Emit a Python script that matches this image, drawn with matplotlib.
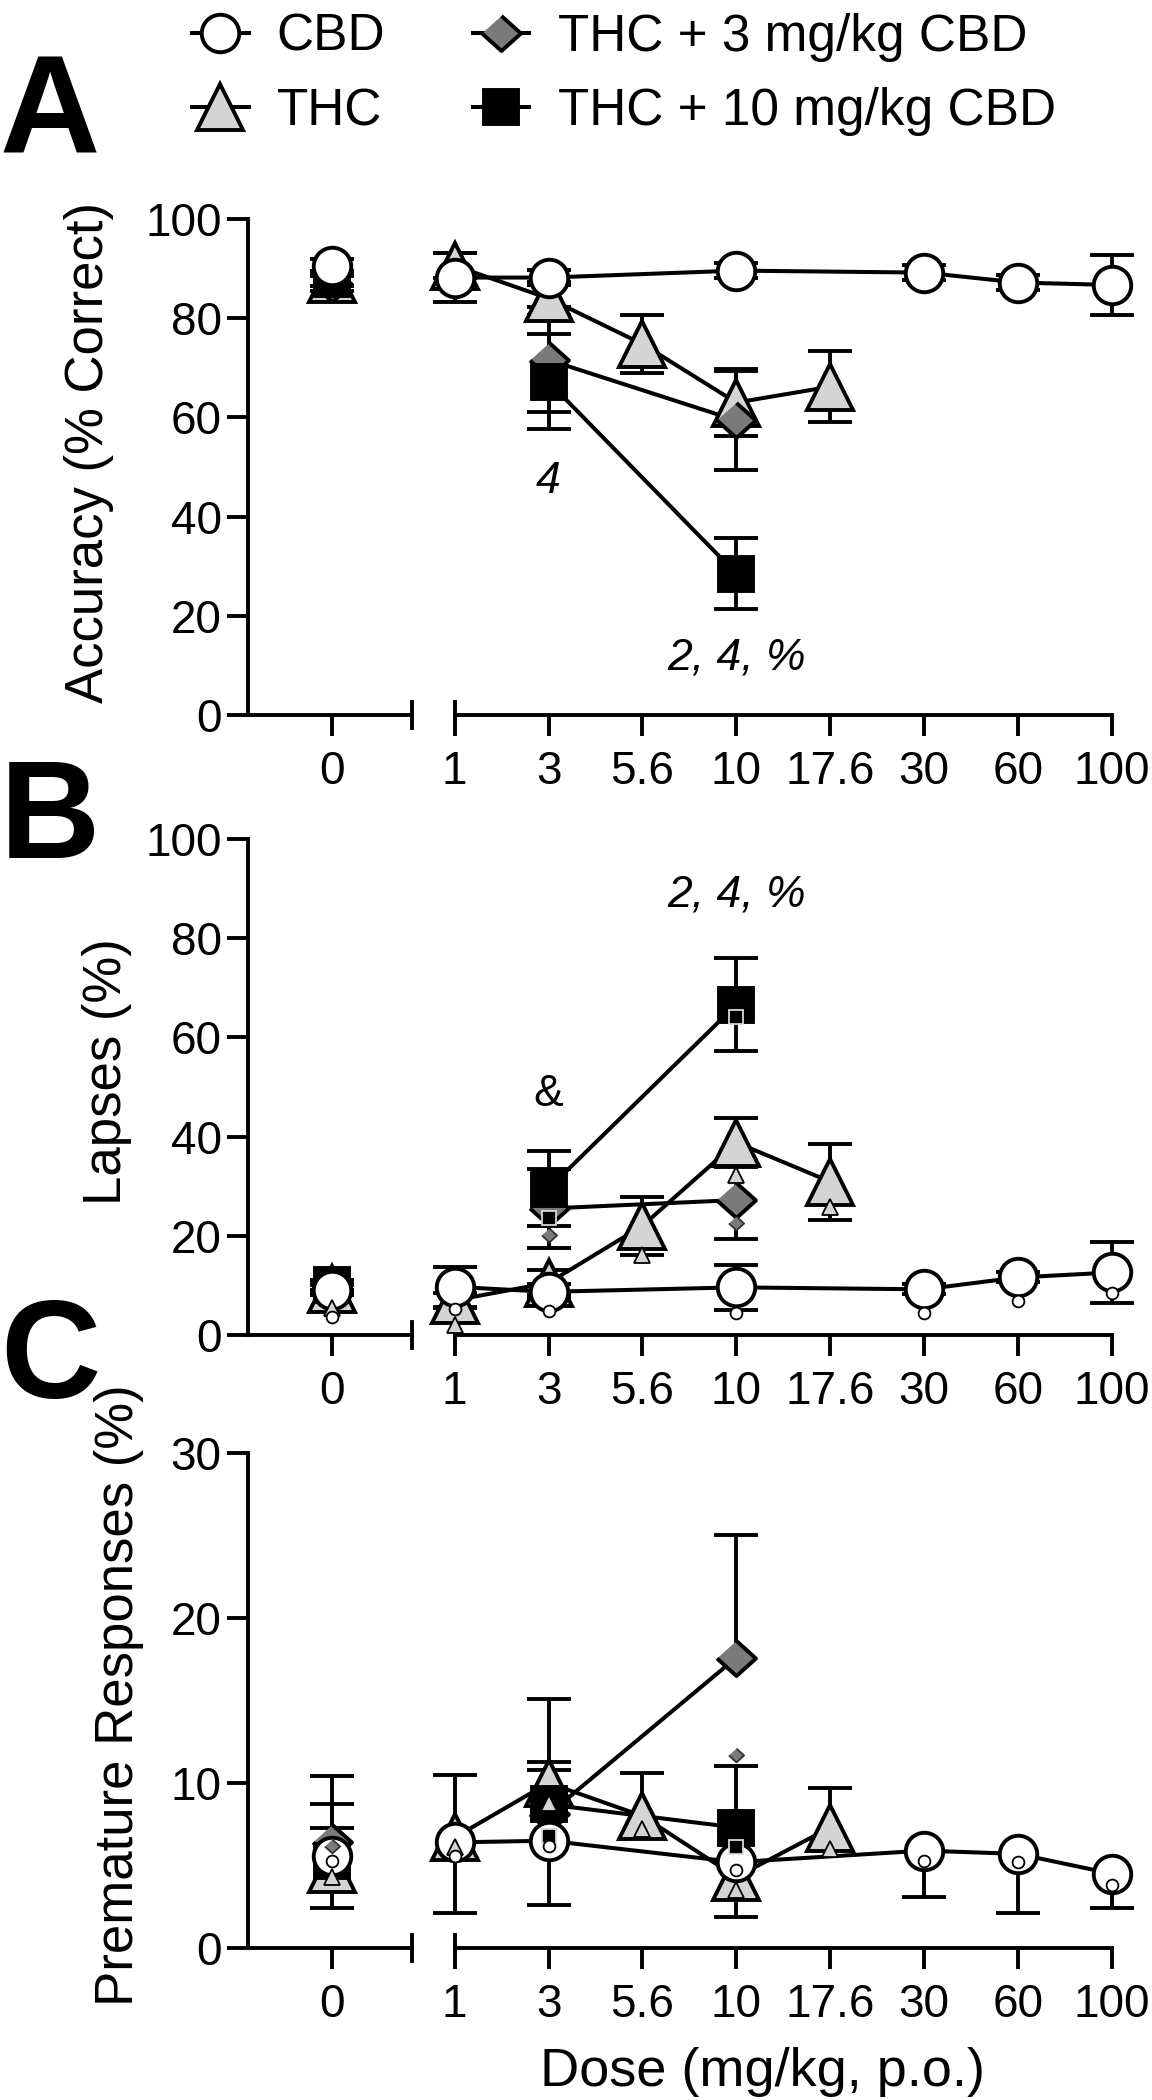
import numpy as np
import matplotlib.pyplot as plt
from matplotlib.lines import Line2D

plt.rcParams['font.family'] = ['Liberation Sans', 'DejaVu Sans']

# ---- data -------------------------------------------------------------
doses = ['0', '1', '3', '5.6', '10', '17.6', '30', '60', '100']
cbd_doses = ['0', '1', '3', '10', '30', '60', '100']
thc_doses = ['0', '1', '3', '5.6', '10', '17.6']
mix_doses = ['0', '3', '10']
names = ['CBD', 'THC', 'THC + 3 mg/kg CBD', 'THC + 10 mg/kg CBD']

# A: accuracy (% correct), mean and SEM
acc_cbd = [90.5, 88.2, 88.2, 89.6, 89.2, 87.2, 86.7]
acc_cbd_sem = [1.5, 5.0, 1.5, 1.5, 1.5, 1.5, 6.0]
acc_thc = [88.0, 90.6, 84.0, 74.8, 63.0, 66.2]
acc_thc_sem = [1.5, 2.5, 3.4, 5.9, 6.8, 7.2]
acc_thc3 = [87.0, 71.6, 59.4]
acc_thc3_sem = [1.5, 10.6, 10.0]
acc_thc10 = [88.0, 67.2, 28.5]
acc_thc10_sem = [1.5, 9.6, 7.2]

# B: lapses (%)
lap_cbd = [9.1, 9.7, 8.7, 9.6, 9.2, 11.6, 12.6]
lap_cbd_sem = [1.0, 4.1, 1.5, 4.5, 1.0, 1.0, 6.2]
lap_thc = [9.2, 7.0, 10.5, 22.0, 38.8, 30.9]
lap_thc_sem = [1.0, 1.5, 2.5, 5.8, 5.0, 7.7]
lap_thc3 = [9.0, 25.5, 27.2]
lap_thc3_sem = [1.0, 8.0, 7.9]
lap_thc10 = [10.0, 29.5, 66.6]
lap_thc10_sem = [1.0, 7.5, 9.3]
# B: small symbols
lap_cbd_s = [3.7, 5.2, 4.9, 4.5, 4.5, 6.9, 8.4]
lap_thc_s = [5.4, 2.0, np.nan, 16.1, 32.3, 25.7]
lap_thc3_s = [np.nan, 20.2, 22.6]
lap_thc10_s = [np.nan, 23.5, 64.2]

# C: premature responses (%)
pre_cbd = [5.6, 6.4, 6.5, 5.2, 5.9, 5.7, 4.5]
pre_cbd_sem = [3.2, 4.3, 3.9, 3.3, 2.8, 3.6, 2.1]
pre_thc = [4.8, 6.7, 10.0, 8.0, 4.3, 7.3]
pre_thc_sem = [3.9, 3.8, 5.1, 2.6, 1.0, 2.4]
pre_thc3 = [6.4, 8.1, 17.6]
pre_thc3_sem = [0.9, 3.2, 7.4]
pre_thc10 = [5.3, 8.7, 7.3]
pre_thc10_sem = [5.1, 2.1, 3.7]
# C: small symbols
pre_cbd_s = [5.3, 5.6, 6.2, 4.7, 5.3, 5.2, 3.8]
pre_thc_s = [4.3, 6.1, 8.8, 7.2, 3.5, 6.0]
pre_thc3_s = [6.2, np.nan, 11.7]
pre_thc10_s = [np.nan, 6.8, 6.1]

# ---- styling ------------------------------------------------------------
# broken x axis: vehicle on its own, then the doses evenly spaced
xpos = dict(zip(doses, [-1.31, 0, 1, 2, 3, 4, 5, 6, 7]))
XL, BRK = -2.2, -0.45

diamond = [(0, 0.9), (1, 0), (0, -0.9), (-1, 0)]
styles = {
    'CBD': dict(marker='o', ms=27, mfc='white', z=6, sms=8.5, sec='k'),
    'THC': dict(marker='^', ms=33, mfc='#d4d4d4', z=3, sms=11, sec='k'),
    'THC + 3 mg/kg CBD': dict(marker=diamond, ms=28, mfc='#7a7a7a', z=4, sms=11, sec='#333333'),
    'THC + 10 mg/kg CBD': dict(marker='s', ms=24, mfc='black', z=5, sms=9.5, sec='#d8d8d8'),
}
LW, MEW = 2.9, 2.8


def errbars(ax, x, y, lo, hi):
    ax.vlines(x, y - lo, y + hi, colors='k', lw=MEW, zorder=2, clip_on=False)
    for ends, e in ((y + hi, hi), (y - lo, lo)):
        m = e > 0
        ax.plot(x[m], ends[m], ls='none', marker='_', ms=31, mew=MEW,
                color='k', zorder=2, clip_on=False)


def panel(ax, series, small, ymax, yticks, ylabel, lab_xy, err_mode):
    for name, (d, mean, sem) in series.items():
        st = styles[name]
        x = np.array([xpos[k] for k in d])
        y = np.array(mean)
        e = np.array(sem)
        if err_mode == 'both':
            lo, hi = e, e
        elif name == 'CBD':
            lo, hi = e, np.zeros_like(e)
        else:
            lo, hi = np.zeros_like(e), e
        errbars(ax, x, y, lo, hi)
        ax.plot(x[1:], y[1:], color='k', lw=LW, zorder=2.5, clip_on=False)
        ax.plot(x, y, ls='none', marker=st['marker'], ms=st['ms'], mfc=st['mfc'],
                mec='k', mew=MEW, zorder=st['z'], clip_on=False)
        if small is not None:
            ax.plot(x, np.array(small[name]), ls='none', marker=st['marker'],
                    ms=st['sms'], mfc=st['mfc'], mec=st['sec'], mew=1.3,
                    zorder=10, clip_on=False)

    ax.set_xlim(XL, 7)
    ax.set_ylim(0, ymax)
    ax.set_yticks(yticks)
    ax.set_xticks([xpos[k] for k in doses], doses)
    for s in ['top', 'right']:
        ax.spines[s].set_visible(False)
    ax.spines['left'].set_linewidth(MEW)
    ax.spines['bottom'].set_linewidth(MEW)
    ax.spines['bottom'].set_bounds(0, 7)
    tr = ax.get_xaxis_transform()
    ax.plot([XL, BRK], [0, 0], transform=tr, color='k', lw=MEW,
            solid_capstyle='projecting', clip_on=False)
    ax.plot([BRK, BRK], [-0.027, 0.027], transform=tr, color='k', lw=MEW, clip_on=False)
    ax.plot([0, 0], [0, 0.027], transform=tr, color='k', lw=MEW, clip_on=False)
    ax.tick_params(axis='both', direction='out', length=15, width=MEW,
                   labelsize=33, color='k')
    ax.tick_params(axis='x', pad=10)
    ax.tick_params(axis='y', pad=4)
    ax.set_ylabel(ylabel, fontsize=38)
    ax.yaxis.set_label_coords(*lab_xy)


fig = plt.figure(figsize=(11.52, 21), dpi=100)
axA = fig.add_axes([248 / 1152, 0.6595, 864 / 1152, 0.2362])
axB = fig.add_axes([248 / 1152, 0.3643, 864 / 1152, 0.2362])
axC = fig.add_axes([248 / 1152, 0.0724, 864 / 1152, 0.2357])

panel(axA, {
    'THC': (thc_doses, acc_thc, acc_thc_sem),
    'THC + 3 mg/kg CBD': (mix_doses, acc_thc3, acc_thc3_sem),
    'THC + 10 mg/kg CBD': (mix_doses, acc_thc10, acc_thc10_sem),
    'CBD': (cbd_doses, acc_cbd, acc_cbd_sem),
}, None, 100, [0, 20, 40, 60, 80, 100], 'Accuracy (% Correct)', (-0.155, 0.53), 'both')

panel(axB, {
    'THC': (thc_doses, lap_thc, lap_thc_sem),
    'THC + 3 mg/kg CBD': (mix_doses, lap_thc3, lap_thc3_sem),
    'THC + 10 mg/kg CBD': (mix_doses, lap_thc10, lap_thc10_sem),
    'CBD': (cbd_doses, lap_cbd, lap_cbd_sem),
}, {'CBD': lap_cbd_s, 'THC': lap_thc_s, 'THC + 3 mg/kg CBD': lap_thc3_s,
    'THC + 10 mg/kg CBD': lap_thc10_s},
    100, [0, 20, 40, 60, 80, 100], 'Lapses (%)', (-0.134, 0.53), 'both')

panel(axC, {
    'THC': (thc_doses, pre_thc, pre_thc_sem),
    'THC + 3 mg/kg CBD': (mix_doses, pre_thc3, pre_thc3_sem),
    'THC + 10 mg/kg CBD': (mix_doses, pre_thc10, pre_thc10_sem),
    'CBD': (cbd_doses, pre_cbd, pre_cbd_sem),
}, {'CBD': pre_cbd_s, 'THC': pre_thc_s, 'THC + 3 mg/kg CBD': pre_thc3_s,
    'THC + 10 mg/kg CBD': pre_thc10_s},
    30, [0, 10, 20, 30], 'Premature Responses (%)', (-0.12, 0.51), 'one')

# significance marks
axA.text(xpos['3'], 47, '4', ha='center', va='center', fontsize=32, style='italic')
axA.text(xpos['10'], 11.5, '2, 4, %', ha='center', va='center', fontsize=32, style='italic')
axB.text(xpos['10'], 88.7, '2, 4, %', ha='center', va='center', fontsize=32, style='italic')
axB.text(xpos['3'], 48.4, '&', ha='center', va='center', fontsize=32)

axC.text(0.595, -0.25, 'Dose (mg/kg, p.o.)', transform=axC.transAxes,
         ha='center', va='center', fontsize=39)

for lab, yb in [('A', 0.927), ('B', 0.5914), ('C', 0.3343)]:
    fig.text(0.0, yb, lab, fontsize=100, fontweight='bold', va='baseline', ha='left')

handles = [Line2D([], [], color='k', lw=LW, marker=styles[n]['marker'],
                  ms=styles[n]['ms'], mfc=styles[n]['mfc'], mec='k', mew=MEW)
           for n in names]
fig.legend(handles, names, loc='upper left', bbox_to_anchor=(192 / 1152, 0.994),
           ncol=2, frameon=False, fontsize=37, handlelength=1.1, handletextpad=0.55,
           columnspacing=1.7, labelspacing=0.5, borderpad=0.0, borderaxespad=0.0)

fig.savefig('out.png', dpi=100)
